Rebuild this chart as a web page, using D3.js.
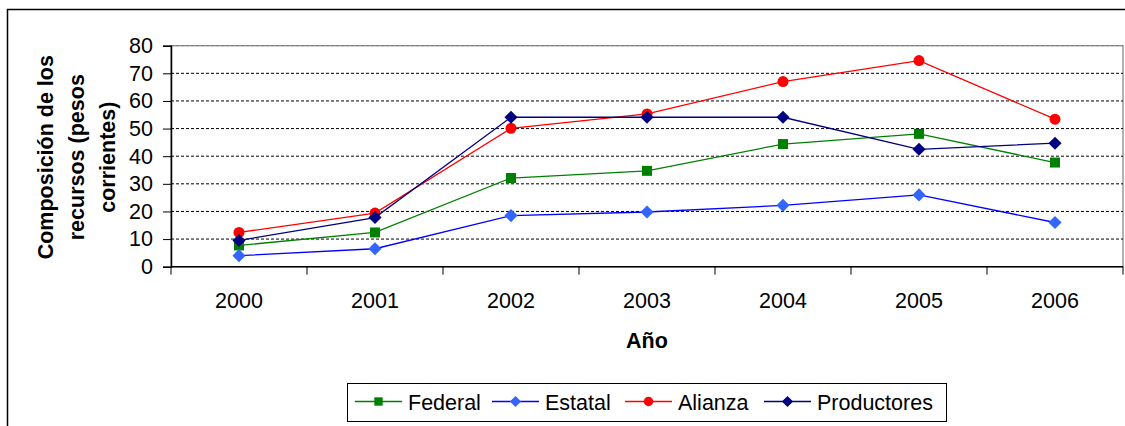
<!DOCTYPE html>
<html>
<head>
<meta charset="utf-8">
<script src="https://cdn.jsdelivr.net/npm/d3@7"></script>
<style>
  body { margin: 0; background: #fff; }
  text { font-family: "Liberation Sans", Arial, sans-serif; }
</style>
</head>
<body>
<div id="chart"></div>
<script>
// DATA
const years = ['2000', '2001', '2002', '2003', '2004', '2005', '2006'];
const federal = [7.7, 12.4, 32.1, 34.7, 44.4, 48.1, 37.7];
const estatal = [4.0, 6.5, 18.5, 19.8, 22.2, 26.0, 16.0];
const alianza = [12.4, 19.4, 50.1, 55.3, 67.0, 74.6, 53.4];
const productores = [9.5, 17.8, 54.1, 54.1, 54.1, 42.5, 44.7];
const yTicks = [0, 10, 20, 30, 40, 50, 60, 70, 80];

// SETTINGS
const width = 1125, height = 426;
const margin = { left: 171, right: 2, top: 45.7, bottom: 159.3 };
const plotW = width - margin.left - margin.right;
const plotH = height - margin.top - margin.bottom;
const fontSize = 21.5;

const series = [
    { name: 'Federal', values: federal, line: '#008000', fill: '#008000', shape: 'square' },
    { name: 'Estatal', values: estatal, line: '#0000ff', fill: '#3366ff', shape: 'diamond' },
    { name: 'Alianza', values: alianza, line: '#ff0000', fill: '#ff0000', shape: 'circle' },
    { name: 'Productores', values: productores, line: '#000080', fill: '#000080', shape: 'diamond' }
];

const symbolFor = shape => {
    if (shape === 'square') return d3.symbol().type(d3.symbolSquare).size(100);
    if (shape === 'circle') return d3.symbol().type(d3.symbolCircle).size(95);
    return d3.symbol().type(d3.symbolDiamond2).size(110);
};

const svg = d3.select('#chart')
    .append('svg')
    .attr('width', width)
    .attr('height', height);

// outer frame
svg.append('rect')
    .attr('x', 7.5).attr('y', 9.5)
    .attr('width', width + 20).attr('height', height + 20)
    .attr('fill', 'none')
    .attr('stroke', '#000')
    .attr('stroke-width', 1.5);

const chart = svg.append('g')
    .attr('transform', `translate(${margin.left}, ${margin.top})`);

const x = d3.scaleBand()
    .domain(years)
    .range([0, plotW]);
const y = d3.scaleLinear()
    .domain([0, 80])
    .range([plotH, 0]);

// plot border (gray top/right)
chart.append('rect')
    .attr('x', 0).attr('y', 0)
    .attr('width', plotW).attr('height', plotH)
    .attr('fill', 'none')
    .attr('stroke', '#808080')
    .attr('stroke-width', 1.2);

// gridlines
chart.selectAll('.grid')
    .data(yTicks.filter(t => t > 0))
    .enter()
    .append('line')
    .attr('x1', 0).attr('x2', plotW)
    .attr('y1', d => y(d)).attr('y2', d => y(d))
    .attr('stroke', d => d === 80 ? '#808080' : '#000')
    .attr('stroke-width', 1)
    .attr('stroke-dasharray', '3,2');

// y axis
const yAxis = chart.append('g')
    .call(d3.axisLeft(y).tickValues(yTicks).tickSize(8).tickPadding(10));
yAxis.select('.domain').attr('stroke', '#000').attr('stroke-width', 1.5);
yAxis.selectAll('.tick line').attr('stroke', '#000');
yAxis.selectAll('text')
    .attr('font-size', fontSize)
    .attr('font-family', '"Liberation Sans", Arial, sans-serif')
    .attr('fill', '#000');

// x axis (ticks at category boundaries)
const xAxis = chart.append('g')
    .attr('transform', `translate(0, ${plotH})`);
xAxis.append('line')
    .attr('x1', 0).attr('x2', plotW)
    .attr('stroke', '#000').attr('stroke-width', 1.5);
const boundaries = years.map(d => x(d)).concat([plotW]);
xAxis.selectAll('.xtick')
    .data(boundaries)
    .enter()
    .append('line')
    .attr('x1', d => d).attr('x2', d => d)
    .attr('y1', 0).attr('y2', 8)
    .attr('stroke', '#000').attr('stroke-width', 1);
xAxis.selectAll('.xlabel')
    .data(years)
    .enter()
    .append('text')
    .attr('x', d => x(d) + x.bandwidth() / 2)
    .attr('y', 41)
    .attr('text-anchor', 'middle')
    .attr('font-size', fontSize)
    .text(d => d);

// axis titles
chart.append('text')
    .attr('x', plotW / 2)
    .attr('y', plotH + 81)
    .attr('text-anchor', 'middle')
    .attr('font-size', fontSize)
    .attr('font-weight', 'bold')
    .text('Año');

const yTitle = svg.append('text')
    .attr('transform', `translate(76, ${margin.top + plotH / 2 + 1}) rotate(-90)`)
    .attr('text-anchor', 'middle')
    .attr('font-size', fontSize)
    .attr('font-weight', 'bold');
['Composición de los', 'recursos (pesos', 'corrientes)'].forEach((t, i) => {
    yTitle.append('tspan')
        .attr('x', 0)
        .attr('y', (i - 1) * 31 + 8)
        .text(t);
});

// lines + markers
const line = d3.line()
    .x((d, i) => x(years[i]) + x.bandwidth() / 2)
    .y(d => y(d));

series.forEach(s => {
    chart.append('path')
        .datum(s.values)
        .attr('d', line)
        .attr('fill', 'none')
        .attr('stroke', s.line)
        .attr('stroke-width', 1.3);
    chart.selectAll(null)
        .data(s.values)
        .enter()
        .append('path')
        .attr('d', symbolFor(s.shape))
        .attr('transform', (d, i) => `translate(${x(years[i]) + x.bandwidth() / 2}, ${y(d)})`)
        .attr('fill', s.fill);
});

// legend
const legend = svg.append('g');
legend.append('rect')
    .attr('x', 347.5).attr('y', 383.5)
    .attr('width', 599).attr('height', 38)
    .attr('fill', '#fff')
    .attr('stroke', '#000')
    .attr('stroke-width', 1);
const legendX = [355, 492, 625, 764];
series.forEach((s, i) => {
    const g = legend.append('g')
        .attr('transform', `translate(${legendX[i]}, 401.5)`);
    g.append('line')
        .attr('x1', 0).attr('x2', 47)
        .attr('stroke', s.line).attr('stroke-width', 1.3);
    g.append('path')
        .attr('d', symbolFor(s.shape).size(s.shape === 'diamond' ? 80 : 70)())
        .attr('transform', 'translate(23.5, 0)')
        .attr('fill', s.fill);
    g.append('text')
        .attr('x', 53)
        .attr('y', 8)
        .attr('font-size', fontSize)
        .text(s.name);
});
</script>
</body>
</html>
